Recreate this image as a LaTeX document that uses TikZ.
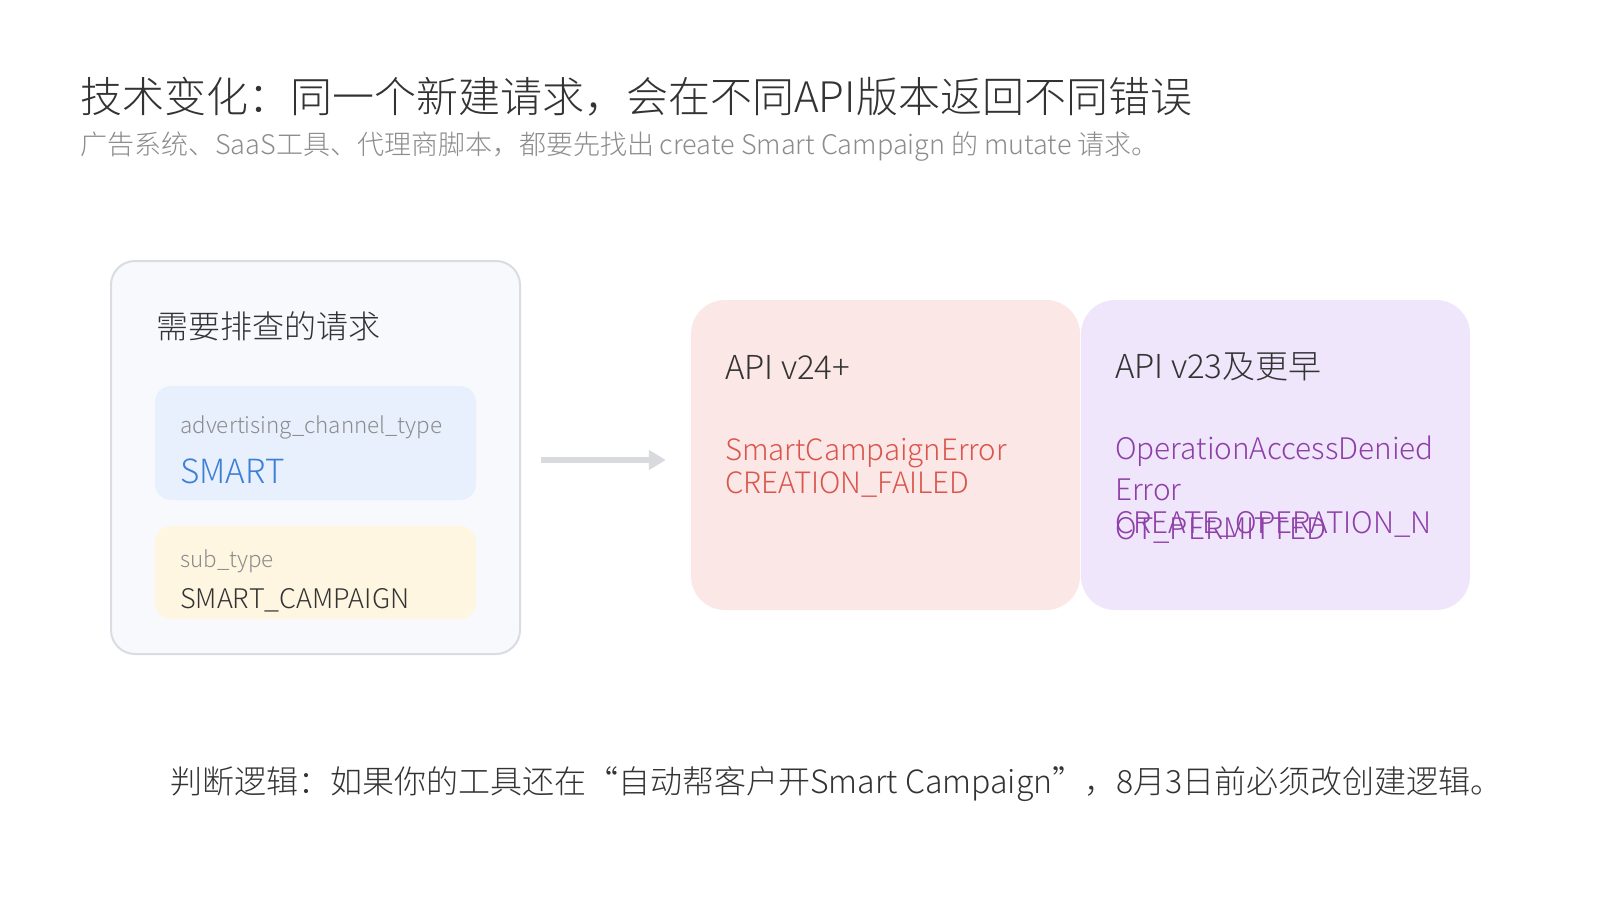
\documentclass[tikz,border=0pt]{standalone}
\usepackage{fontspec}
\setmainfont{Noto Sans CJK SC}[UprightFont={* Light}]
\usetikzlibrary{arrows.meta}
\definecolor{ink}{HTML}{333333}
\definecolor{mute}{HTML}{8C8C8C}
\definecolor{panel}{HTML}{F7F9FD}
\definecolor{panelline}{HTML}{D9DCE1}
\definecolor{bluebg}{HTML}{E8F0FD}
\definecolor{blueink}{HTML}{3D7FD6}
\definecolor{yellowbg}{HTML}{FEF6E1}
\definecolor{redbg}{HTML}{FBE7E5}
\definecolor{redink}{HTML}{D9564E}
\definecolor{purplebg}{HTML}{F0E6FC}
\definecolor{purpleink}{HTML}{8E3FA8}
\definecolor{arrowgray}{HTML}{D8DADD}
\newcommand{\fs}[1]{\fontsize{#1}{1.2\dimexpr#1pt\relax}\selectfont}
\tikzset{
  txt/.style={inner sep=0pt,anchor=west,align=left},
  card/.style={inner sep=0pt,draw=none,rounded corners=#1},
  card/.default=16,
  arr/.style={line width=6pt,arrowgray,-{Triangle[length=17pt,width=19pt]}}
}
\begin{document}
\begin{tikzpicture}[x=1pt,y=-1pt]
  \useasboundingbox[fill=white] (0,0) rectangle (1600,900);
  % title
  \node[txt,text=ink,font=\fs{42}] (title) at (80,97) {技术变化：同一个新建请求，会在不同API版本返回不同错误};
  \node[txt,text=mute,font=\fs{27}] (sub) at (80,147) {广告系统、SaaS工具、代理商脚本，都要先找出 create Smart Campaign 的 mutate 请求。};
  % request panel
  \node[card=24,fill=panel,draw=panelline,line width=2pt,minimum width=409,minimum height=393] (req) at (315.5,457.5) {};
  \node[txt,text=ink,font=\fs{32}] (reqhead) at (156,326) {需要排查的请求};
  \node[card,fill=bluebg,minimum width=321,minimum height=114] (chan) at (315.5,443) {};
  \node[txt,text=mute,font=\fs{22.4}] (chankey) at (180,427.5) {advertising\_channel\_type};
  \node[txt,text=blueink,font=\fs{33.3}] (chanval) at (180,471) {SMART};
  \node[card,fill=yellowbg,minimum width=321,minimum height=93] (subt) at (315.5,572.5) {};
  \node[txt,text=mute,font=\fs{22.4}] (subkey) at (180,561) {sub\_type};
  \node[txt,text=ink,font=\fs{27}] (subval) at (180,600) {SMART\_CAMPAIGN};
  % versions
  \node[card=34,fill=redbg,minimum width=389,minimum height=310] (red) at (885.5,455) {};
  \node[card=34,fill=purplebg,minimum width=389,minimum height=310] (purple) at (1275.5,455) {};
  \node[txt,text=ink,font=\fs{33}] (v24) at (725,367) {API v24+};
  \node[txt,anchor=base west,text=redink,font=\fontsize{29.4}{33}\selectfont] (v24err) at (725,493) {SmartCampaignError\\CREATION\_FAILED};
  \node[txt,text=ink,font=\fs{33}] (v23) at (1115,367) {API v23及更早};
  \node[txt,anchor=base west,text=purpleink,font=\fontsize{29.7}{41}\selectfont] (v23err) at (1115,539) {OperationAccessDenied\\Error\\[-8pt]CREATE\_OPERATION\_N\\[-35pt]OT\_PERMITTED};
  \draw[arr,shorten <=20pt,shorten >=25pt] ([yshift=-2.5pt]req.east) -- ([yshift=-2.5pt]req.east -| red.west);
  % bottom line
  \node[txt,text=ink,font=\fs{32}] (rule) at (170,784) {判断逻辑：如果你的工具还在“自动帮客户开Smart Campaign”，8月3日前必须改创建逻辑。};
\end{tikzpicture}
\end{document}
